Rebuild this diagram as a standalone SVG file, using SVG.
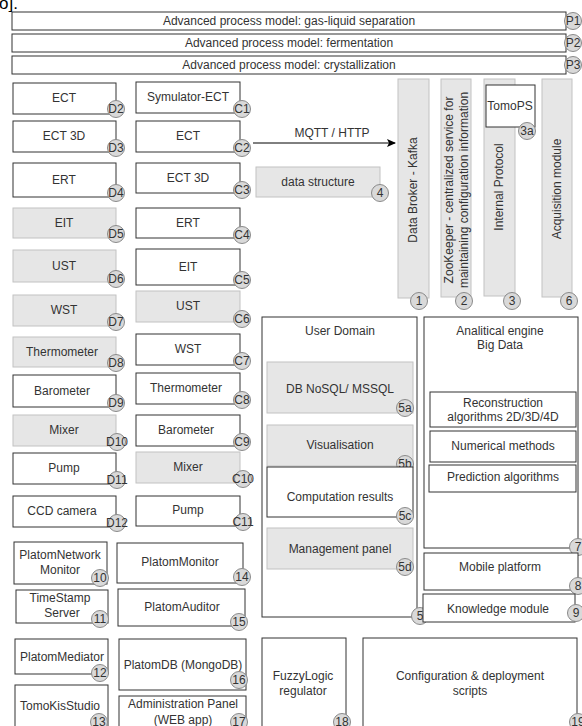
<svg xmlns="http://www.w3.org/2000/svg" width="582" height="726" viewBox="0 0 582 726">
<style>
text{font-family:"Liberation Sans",Arial,sans-serif;font-size:12px;fill:#333;text-anchor:middle}
.w{fill:#fff;stroke:#333;stroke-width:1}
.g{fill:#e6e6e6;stroke:#c2c2c2;stroke-width:1}
.b{fill:#d9d9d9;stroke:#8a8a8a;stroke-width:1}
.ed{stroke:#000;stroke-width:1;fill:none}
</style>
<defs>
<marker id="ah" markerWidth="10" markerHeight="10" refX="8" refY="4" orient="auto" markerUnits="userSpaceOnUse">
<path d="M0,0 L9,4 L0,8 L2,4 Z" fill="#000"/>
</marker>
</defs>
<rect width="582" height="726" fill="#fff"/>
<text x="-1" y="9" style="font-size:17px;text-anchor:start;fill:#000">o].</text>

<g id="P1"><rect x="12" y="12" width="554" height="18" class="w"/><text x="289" y="25">Advanced process model: gas-liquid separation</text><circle cx="573" cy="21" r="8.5" class="b"/><text x="573" y="25">P1</text></g>
<g id="P2"><rect x="12" y="34" width="554" height="18" class="w"/><text x="289" y="47">Advanced process model: fermentation</text><circle cx="573" cy="43" r="8.5" class="b"/><text x="573" y="47">P2</text></g>
<g id="P3"><rect x="12" y="56" width="554" height="18" class="w"/><text x="289" y="69">Advanced process model: crystallization</text><circle cx="573" cy="65" r="8.5" class="b"/><text x="573" y="69">P3</text></g>

<g id="D2"><rect x="13" y="83" width="103" height="31" class="w"/><text x="64" y="102">ECT</text><circle cx="116" cy="109" r="8.5" class="b"/><text x="116" y="113">D2</text></g>
<g id="D3"><rect x="13" y="121" width="103" height="31" class="w"/><text x="64" y="140">ECT 3D</text><circle cx="116" cy="148" r="8.5" class="b"/><text x="116" y="152">D3</text></g>
<g id="D4"><rect x="13" y="163" width="103" height="34" class="w"/><text x="64" y="184">ERT</text><circle cx="116" cy="193" r="8.5" class="b"/><text x="116" y="197">D4</text></g>
<g id="D5"><rect x="13" y="208" width="103" height="30" class="g"/><text x="64" y="227">EIT</text><circle cx="116" cy="234" r="8.5" class="b"/><text x="116" y="238">D5</text></g>
<g id="D6"><rect x="13" y="250" width="103" height="32" class="g"/><text x="64" y="270">UST</text><circle cx="116" cy="279" r="8.5" class="b"/><text x="116" y="283">D6</text></g>
<g id="D7"><rect x="13" y="295" width="103" height="31" class="g"/><text x="64" y="314">WST</text><circle cx="116" cy="322" r="8.5" class="b"/><text x="116" y="326">D7</text></g>
<g id="D8"><rect x="13" y="337" width="103" height="30" class="g"/><text x="62" y="356">Thermometer</text><circle cx="116" cy="363" r="8.5" class="b"/><text x="116" y="367">D8</text></g>
<g id="D9"><rect x="13" y="375" width="103" height="32" class="w"/><text x="62" y="395">Barometer</text><circle cx="116" cy="403" r="8.5" class="b"/><text x="116" y="407">D9</text></g>
<g id="D10"><rect x="13" y="415" width="103" height="31" class="g"/><text x="64" y="434">Mixer</text><circle cx="117" cy="442" r="8.5" class="b"/><text x="117" y="446">D10</text></g>
<g id="D11"><rect x="13" y="453" width="103" height="31" class="w"/><text x="64" y="472">Pump</text><circle cx="117" cy="480" r="8.5" class="b"/><text x="117" y="484">D11</text></g>
<g id="D12"><rect x="13" y="496" width="103" height="31" class="w"/><text x="62" y="515">CCD camera</text><circle cx="117" cy="523" r="8.5" class="b"/><text x="117" y="527">D12</text></g>

<g id="C1"><rect x="136" y="82" width="104" height="31" class="w"/><text x="188" y="101">Symulator-ECT</text><circle cx="242" cy="109" r="8.5" class="b"/><text x="242" y="113">C1</text></g>
<g id="C2"><rect x="136" y="121" width="104" height="31" class="w"/><text x="188" y="140">ECT</text><circle cx="242" cy="148" r="8.5" class="b"/><text x="242" y="152">C2</text></g>
<g id="C3"><rect x="136" y="163" width="104" height="30" class="w"/><text x="188" y="182">ECT 3D</text><circle cx="242" cy="190" r="8.5" class="b"/><text x="242" y="194">C3</text></g>
<g id="C4"><rect x="136" y="208" width="104" height="30" class="w"/><text x="188" y="227">ERT</text><circle cx="242" cy="235" r="8.5" class="b"/><text x="242" y="239">C4</text></g>
<g id="C5"><rect x="136" y="249" width="104" height="36" class="w"/><text x="188" y="271">EIT</text><circle cx="242" cy="280" r="8.5" class="b"/><text x="242" y="284">C5</text></g>
<g id="C6"><rect x="136" y="291" width="104" height="31" class="g"/><text x="188" y="310">UST</text><circle cx="242" cy="319" r="8.5" class="b"/><text x="242" y="323">C6</text></g>
<g id="C7"><rect x="136" y="334" width="104" height="31" class="w"/><text x="188" y="353">WST</text><circle cx="242" cy="361" r="8.5" class="b"/><text x="242" y="365">C7</text></g>
<g id="C8"><rect x="136" y="373" width="104" height="31" class="w"/><text x="186" y="392">Thermometer</text><circle cx="242" cy="400" r="8.5" class="b"/><text x="242" y="404">C8</text></g>
<g id="C9"><rect x="136" y="415" width="104" height="31" class="w"/><text x="186" y="434">Barometer</text><circle cx="242" cy="442" r="8.5" class="b"/><text x="242" y="446">C9</text></g>
<g id="C10"><rect x="136" y="452" width="104" height="31" class="g"/><text x="188" y="471">Mixer</text><circle cx="243" cy="479" r="8.5" class="b"/><text x="243" y="483">C10</text></g>
<g id="C11"><rect x="136" y="496" width="104" height="30" class="w"/><text x="188" y="514">Pump</text><circle cx="243" cy="522" r="8.5" class="b"/><text x="243" y="526">C11</text></g>

<g id="n10"><rect x="14" y="542" width="93" height="42" class="w"/><text x="60" y="559">PlatomNetwork</text><text x="60" y="574">Monitor</text><circle cx="100" cy="578" r="8.5" class="b"/><text x="100" y="582">10</text></g>
<g id="n14"><rect x="117" y="543" width="126" height="40" class="w"/><text x="180" y="566">PlatomMonitor</text><circle cx="242" cy="577" r="8.5" class="b"/><text x="242" y="581">14</text></g>
<g id="n11"><rect x="16" y="590" width="92" height="33" class="w"/><text x="60" y="602">TimeStamp</text><text x="62" y="617">Server</text><circle cx="100" cy="619" r="8.5" class="b"/><text x="100" y="623">11</text></g>
<g id="n15"><rect x="118" y="589" width="127" height="37" class="w"/><text x="182" y="611">PlatomAuditor</text><circle cx="239" cy="622" r="8.5" class="b"/><text x="239" y="626">15</text></g>
<g id="n12"><rect x="15" y="639" width="93" height="35" class="w"/><text x="62" y="661">PlatomMediator</text><circle cx="100" cy="673" r="8.5" class="b"/><text x="100" y="677">12</text></g>
<g id="n16"><rect x="119" y="639" width="127" height="51" class="w"/><text x="183" y="669">PlatomDB (MongoDB)</text><circle cx="239" cy="680" r="8.5" class="b"/><text x="239" y="684">16</text></g>
<g id="n13"><rect x="15" y="685" width="93" height="50" class="w"/><text x="60" y="710">TomoKisStudio</text><circle cx="99" cy="722" r="8.5" class="b"/><text x="99" y="726">13</text></g>
<g id="n17"><rect x="119" y="696" width="127" height="40" class="w"/><text x="183" y="708">Administration Panel</text><text x="183" y="724">(WEB app)</text><circle cx="239" cy="722" r="8.5" class="b"/><text x="239" y="726">17</text></g>

<g id="n4"><rect x="256" y="167" width="124" height="30" class="g"/><text x="318" y="186">data structure</text><circle cx="380" cy="193" r="8.5" class="b"/><text x="380" y="197">4</text></g>

<g id="n1"><rect x="398" y="79" width="31" height="219" class="g"/><text transform="translate(417,190) rotate(-90)">Data Broker - Kafka</text><circle cx="419" cy="301" r="8.5" class="b"/><text x="419" y="305">1</text></g>
<g id="n2"><rect x="441" y="79" width="30" height="218" class="g"/><text transform="translate(453,190) rotate(-90)">ZooKeeper - centralized service for</text><text transform="translate(468,190) rotate(-90)">maintaining configuration information</text><circle cx="464" cy="301" r="8.5" class="b"/><text x="464" y="305">2</text></g>
<g id="n3"><rect x="484" y="79" width="31" height="217" class="g"/><text transform="translate(503,187) rotate(-90)">Internal Protocol</text><circle cx="512" cy="301" r="8.5" class="b"/><text x="512" y="305">3</text></g>
<g id="n3a"><rect x="486" y="85" width="49" height="42" class="w"/><text x="510" y="110">TomoPS</text><circle cx="527" cy="131" r="8.5" class="b"/><text x="527" y="135">3a</text></g>
<g id="n6"><rect x="542" y="79" width="30" height="218" class="g"/><text transform="translate(561,189) rotate(-90)">Acquisition module</text><circle cx="569" cy="301" r="8.5" class="b"/><text x="569" y="305">6</text></g>

<g id="n5"><rect x="262" y="317" width="155" height="300" class="w"/><text x="340" y="335">User Domain</text><circle cx="420" cy="616" r="8.5" class="b"/><text x="420" y="620">5</text></g>
<g id="n5a"><rect x="267" y="362" width="146" height="51" class="g"/><text x="340" y="393">DB NoSQL/ MSSQL</text><circle cx="405" cy="408" r="8.5" class="b"/><text x="405" y="412">5a</text></g>
<g id="n5b"><rect x="267" y="425" width="146" height="41" class="g"/><text x="340" y="449">Visualisation</text><circle cx="405" cy="464" r="8.5" class="b"/><text x="405" y="468">5b</text></g>
<g id="n5c"><rect x="267" y="467" width="146" height="50" class="w"/><text x="340" y="501">Computation results</text><circle cx="405" cy="516" r="8.5" class="b"/><text x="405" y="520">5c</text></g>
<g id="n5d"><rect x="267" y="528" width="146" height="41" class="g"/><text x="340" y="553">Management panel</text><circle cx="405" cy="567" r="8.5" class="b"/><text x="405" y="571">5d</text></g>

<g id="n7"><rect x="424" y="317" width="154" height="231" class="w"/><text x="500" y="335">Analitical engine</text><text x="500" y="349">Big Data</text><circle cx="578" cy="547" r="8.5" class="b"/><text x="578" y="551">7</text></g>
<g id="rec"><rect x="430" y="392" width="146" height="35" class="w"/><text x="503" y="407">Reconstruction</text><text x="503" y="421">algorithms 2D/3D/4D</text></g>
<g id="num"><rect x="430" y="431" width="146" height="31" class="w"/><text x="503" y="450">Numerical methods</text></g>
<g id="pred"><rect x="429" y="465" width="147" height="27" class="w"/><text x="503" y="481">Prediction algorithms</text></g>
<g id="n8"><rect x="424" y="553" width="154" height="37" class="w"/><text x="500" y="571">Mobile platform</text><circle cx="578" cy="586" r="8.5" class="b"/><text x="578" y="590">8</text></g>
<g id="n9"><rect x="423" y="594" width="152" height="28" class="w"/><text x="498" y="613">Knowledge module</text><circle cx="576" cy="613" r="8.5" class="b"/><text x="576" y="617">9</text></g>

<g id="n18"><rect x="262" y="638" width="84" height="100" class="w"/><text x="303" y="680">FuzzyLogic</text><text x="303" y="695">regulator</text><circle cx="342" cy="722" r="8.5" class="b"/><text x="342" y="726">18</text></g>
<g id="n19"><rect x="363" y="638" width="214" height="100" class="w"/><text x="470" y="680">Configuration &amp; deployment</text><text x="470" y="695">scripts</text><circle cx="578" cy="722" r="8.5" class="b"/><text x="578" y="726">19</text></g>

<g id="connectors">
<line x1="253" y1="143" x2="395" y2="143" class="ed" marker-end="url(#ah)"/>
<text x="332" y="137">MQTT / HTTP</text>
</g>
</svg>
